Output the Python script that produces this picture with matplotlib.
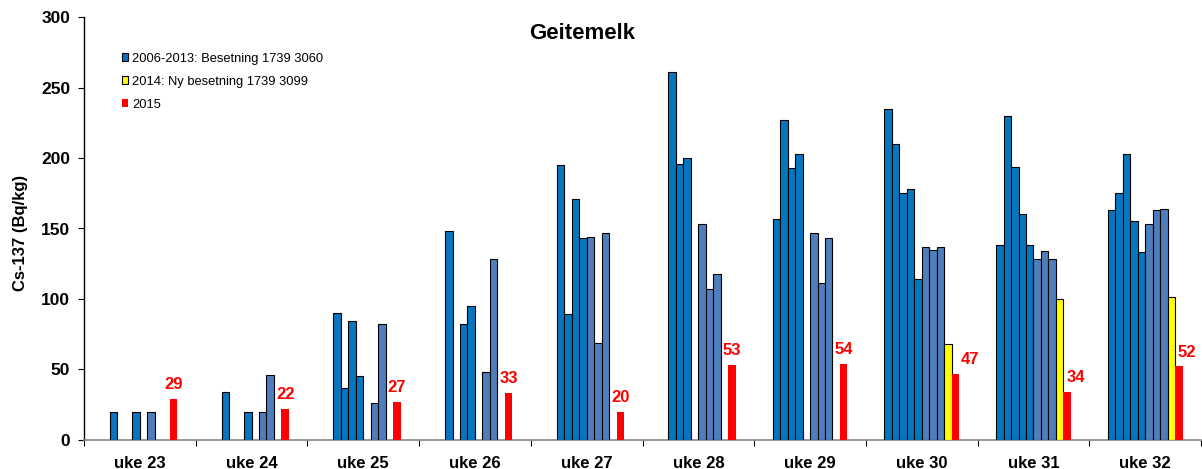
import numpy as np
import matplotlib
matplotlib.use('Agg')
import matplotlib.pyplot as plt
from matplotlib.patches import Patch

nan = np.nan

# Uker og år
weeks = ['uke 23', 'uke 24', 'uke 25', 'uke 26', 'uke 27',
         'uke 28', 'uke 29', 'uke 30', 'uke 31', 'uke 32']
old_years = ['2006', '2007', '2008', '2009', '2010', '2011', '2012', '2013']

# Cs-137 (Bq/kg) per år, en verdi per uke
v2006 = [nan, nan, nan, nan, nan, nan, 157, 235, 138, 163]
v2007 = [20, 34, 90, 148, 195, 261, 227, 210, 230, 175]
v2008 = [nan, nan, 37, nan, 89, 196, 193, 175, 194, 203]
v2009 = [nan, nan, 84, 82, 171, 200, 203, 178, 160, 155]
v2010 = [20, 20, 45, 95, 143, nan, nan, 114, 138, 133]
v2011 = [nan, nan, nan, nan, 144, 153, 147, 137, 128, 153]
v2012 = [20, 20, 26, 48, 69, 107, 111, 135, 134, 163]
v2013 = [nan, 46, 82, 128, 147, 118, 143, 137, 128, 164]
v2014 = [nan, nan, nan, nan, nan, nan, nan, 68, 100, 101]
v2015 = [29, 22, 27, 33, 20, 53, 54, 47, 34, 52]

old_values = [v2006, v2007, v2008, v2009, v2010, v2011, v2012, v2013]

dark_blue = '#0677BE'
light_blue = '#4F7EBD'
old_colors = [dark_blue] * 5 + [light_blue] * 3

# forskyvning av etikettene (punkter), som i originalen
label_dx = [0, 0, 0, 0, 0, 0, 0, 10.5, 6.5, 6]

plt.rcParams['font.family'] = ['Liberation Sans', 'DejaVu Sans']

fig = plt.figure(figsize=(12.02, 4.69), dpi=100)
ax = fig.add_axes([84 / 1202, 1 - 439.7 / 469, 1117 / 1202, 422.4 / 469])

x = np.arange(len(weeks))
w = 0.0669

for k, (vals, col) in enumerate(zip(old_values, old_colors)):
    ax.bar(x + (k - 4.5) * w, vals, width=w, color=col,
           edgecolor='black', linewidth=0.8, zorder=3)

ax.bar(x + (8 - 4.5) * w, v2014, width=w, color='#FFFF00',
       edgecolor='black', linewidth=0.8, zorder=3)
red = ax.bar(x + (9 - 4.5) * w, v2015, width=w, color='#FF0000',
             linewidth=0, zorder=3)

for i, rect in enumerate(red):
    ax.annotate(str(v2015[i]),
                (rect.get_x() + rect.get_width() / 2, rect.get_height()),
                xytext=(label_dx[i], 5), textcoords='offset points',
                ha='center', va='bottom', color='#FF0000',
                fontsize=12, fontweight='bold')

ax.set_xlim(-0.5, len(weeks) - 0.5)
ax.set_ylim(0, 300)
ax.set_yticks(np.arange(0, 301, 50))
ax.set_xticks(x)
ax.set_xticklabels(weeks, fontsize=12, fontweight='bold')
ax.set_xticks(np.arange(-0.5, len(weeks)), minor=True)
ax.tick_params(axis='x', which='major', length=0, pad=12)
ax.tick_params(axis='x', which='minor', length=4, color='#000000', width=0.8)
ax.tick_params(axis='y', length=4, width=0.8, pad=6, labelsize=12.5)
for lab in ax.get_yticklabels():
    lab.set_fontweight('bold')

ax.spines['top'].set_visible(False)
ax.spines['right'].set_visible(False)
ax.spines['bottom'].set_color('#868686')
ax.spines['bottom'].set_linewidth(1.2)
ax.spines['left'].set_linewidth(1.0)

ax.set_ylabel('Cs-137 (Bq/kg)', fontsize=12, fontweight='bold')
ax.yaxis.set_label_coords(-0.050, 0.49)

ax.text(0.446, 0.962, 'Geitemelk', transform=ax.transAxes,
        ha='center', va='center', fontsize=16, fontweight='bold')

handles = [Patch(facecolor=dark_blue, edgecolor='black', linewidth=0.8),
           Patch(facecolor='#FFFF00', edgecolor='black', linewidth=0.8),
           Patch(facecolor='#FF0000', linewidth=0)]
ax.legend(handles, ['2006-2013: Besetning 1739 3060',
                    '2014: Ny besetning 1739 3099', '2015'],
          loc='upper left', bbox_to_anchor=(0.0235, 0.944), frameon=False,
          fontsize=9.3, handlelength=0.5, handleheight=0.5,
          handletextpad=0.3, labelspacing=0.85)

fig.savefig('out.png', dpi=100)
